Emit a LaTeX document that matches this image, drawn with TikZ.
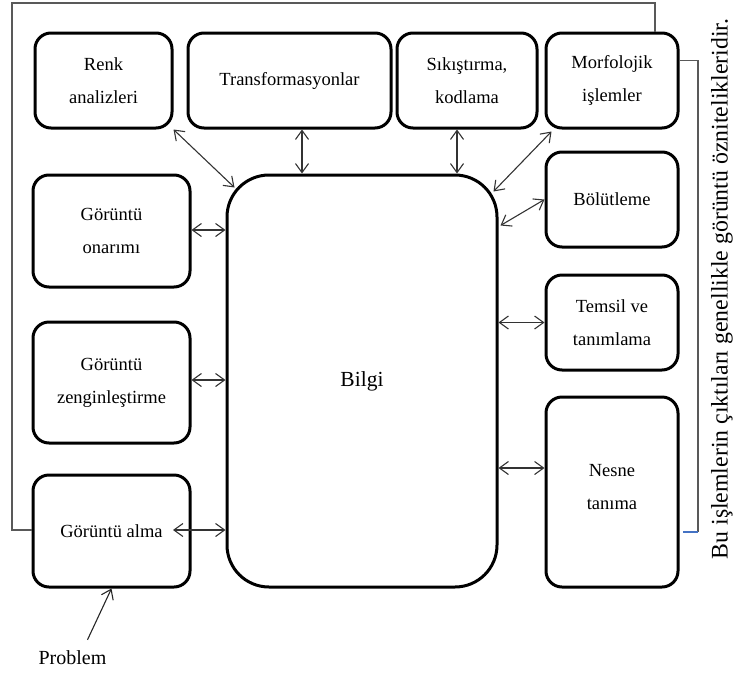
\documentclass[tikz,border=0pt]{standalone}
\usepackage{fontspec}
\setmainfont{Liberation Serif}
\usetikzlibrary{arrows.meta,calc}
\begin{document}
\begin{tikzpicture}[x=1pt,y=-1pt,
  box/.style={draw=black, line width=3pt, rounded corners=16pt, align=center,
    inner sep=0pt, font=\fontsize{18.5}{33}\selectfont},
  bigbox/.style={box, rounded corners=42pt, font=\fontsize{21.5}{26}\selectfont},
  arr/.style={{Straight Barb[length=9pt,width=13pt]}-{Straight Barb[length=9pt,width=13pt]},
    line width=1.1pt, draw=black!80},
  oneway/.style={-{Straight Barb[length=9pt,width=13pt]}, line width=1.1pt, draw=black!85},
  fbline/.style={line width=1.3pt, draw=black!65},
  bluetip/.style={line width=1.5pt, draw={rgb,255:red,68;green,114;blue,196}}
]
\useasboundingbox (0,0) rectangle (739,675);

% boxes
\node[box, minimum width=137pt, minimum height=95pt] (renk) at (103.5,80.5) {Renk\\analizleri};
\node[box, minimum width=203pt, minimum height=95pt] (trans) at (289.5,80.5) {Transformasyonlar};
\node[box, minimum width=140pt, minimum height=95pt] (sik) at (467,80.5) {Sıkıştırma,\\kodlama};
\node[box, minimum width=132pt, minimum height=95pt] (morf) at (612,80.5) {Morfolojik\\işlemler};
\node[box, minimum width=132pt, minimum height=95pt] (bolut) at (612,199.5) {Bölütleme};
\node[box, minimum width=132pt, minimum height=95pt] (temsil) at (612,322.5) {Temsil ve\\tanımlama};
\node[box, minimum width=132pt, minimum height=190pt] (nesne) at (612,492)
  {\raisebox{1.4pt}[0pt][0pt]{\begin{tabular}{@{}c@{}}Nesne\\tanıma\end{tabular}}};
\node[box, minimum width=157pt, minimum height=112pt] (onarim) at (111.5,231) {Görüntü\\onarımı};
\node[box, minimum width=157pt, minimum height=121pt] (zengin) at (111.5,382.5) {Görüntü\\zenginleştirme};
\node[box, minimum width=157pt, minimum height=112pt] (alma) at (111.5,531) {Görüntü alma};
\node[bigbox, minimum width=270pt, minimum height=412pt] (bilgi) at (362,381) {Bilgi};

\node[font=\fontsize{20}{24}\selectfont, inner sep=0pt] (problem) at (72.5,658) {Problem};
\node[font=\fontsize{23.8}{28}\selectfont, rotate=90, inner sep=0pt] (note) at (722,289)
  {Bu işlemlerin çıktıları genellikle görüntü öznitelikleridir.};

% connectors
\draw[arr] (renk.south east) -- ([shift={(9pt,-14pt)}]bilgi.north west);
\draw[arr] ([xshift=12.5pt]trans.south) -- ([xshift=12.5pt]trans.south |- bilgi.north);
\draw[arr] ([xshift=-10pt]sik.south) -- ([xshift=-10pt]sik.south |- bilgi.north);
\draw[arr] ([shift={(7pt,-2pt)}]morf.south west) -- ([shift={(-5pt,-18pt)}]bilgi.north east);
\draw[arr] ([shift={(2pt,-52pt)}]bilgi.north east) -- (bolut.west);
\draw[arr] (bilgi.east |- temsil.west) -- (temsil.west);
\draw[arr] ([yshift=24pt]nesne.west -| bilgi.east) -- ([yshift=24pt]nesne.west);
\draw[arr] ([yshift=1pt]onarim.east) -- ([yshift=1pt]onarim.east -| bilgi.west);
\draw[arr] ([yshift=2.5pt]zengin.east) -- ([yshift=2.5pt]zengin.east -| bilgi.west);
\coordinate (almaend) at (173,530);
\draw[arr] (almaend) -- (almaend -| bilgi.west);
\draw[oneway] ([shift={(15pt,11pt)}]problem.north) -- (alma.south);

% feedback line
\coordinate (fbcorner) at (12,3);
\draw[fbline] ([yshift=1pt]alma.west) -| (fbcorner) -| ([xshift=43pt]morf.north);

% bracket on the right
\coordinate (brk) at (698,532);
\coordinate (brkend) at (683,532);
\draw[fbline] ([yshift=20pt]morf.east) -| (brk);
\draw[bluetip] (brk) -- (brkend);
\end{tikzpicture}
\end{document}
